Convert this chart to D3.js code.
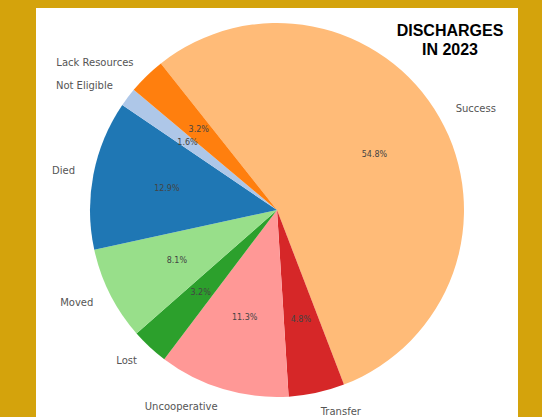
<!DOCTYPE html>
<html>
<head>
<meta charset="utf-8">
<script src="https://cdn.jsdelivr.net/npm/d3@7"></script>
<style>
  body { margin: 0; background: #d4a30c; }
  svg { display: block; }
</style>
</head>
<body>
<div id="plot"></div>
<script>
// discharge categories, in drawing order (clockwise from the top-left)
const categories = ["Success", "Transfer", "Uncooperative", "Lost", "Moved", "Died", "Not Eligible", "Lack Resources"];
const counts = [34, 3, 7, 2, 5, 8, 1, 2];
const pctLabels = ["54.8%", "4.8%", "11.3%", "3.2%", "8.1%", "12.9%", "1.6%", "3.2%"];
const colors = ["#ffbb78", "#d62728", "#ff9896", "#2ca02c", "#98df8a", "#1f77b4", "#aec7e8", "#ff7f0e"];
const titleLines = ["DISCHARGES", "IN 2023"];

const W = 542, H = 417;
const cx = 277, cy = 210, R = 187;

const svg = d3.select("#plot").append("svg")
    .attr("width", W)
    .attr("height", H);

// white panel
svg.append("rect")
    .attr("x", 36).attr("y", 8)
    .attr("width", 482).attr("height", H - 8)
    .attr("fill", "white");

const start = -38.4 * Math.PI / 180;
const pie = d3.pie()
    .sort(null)
    .value(d => d)
    .startAngle(start)
    .endAngle(start + 2 * Math.PI);

const arcs = pie(counts);
const arc = d3.arc().innerRadius(0).outerRadius(R);

const g = svg.append("g")
    .attr("transform", "translate(" + cx + "," + cy + ")");

g.selectAll("path.slice")
    .data(arcs)
    .enter()
    .append("path")
    .attr("class", "slice")
    .attr("d", arc)
    .attr("fill", (d, i) => colors[i]);

function pos(d, k) {
    const a = (d.startAngle + d.endAngle) / 2;
    return [Math.sin(a) * R * k, -Math.cos(a) * R * k];
}

// category labels outside the pie
g.selectAll("text.cat")
    .data(arcs)
    .enter()
    .append("text")
    .attr("class", "cat")
    .attr("x", d => pos(d, 1.1)[0])
    .attr("y", d => pos(d, 1.1)[1])
    .attr("dy", "0.35em")
    .attr("text-anchor", d => pos(d, 1.1)[0] < 0 ? "end" : "start")
    .attr("font-family", "DejaVu Sans, sans-serif")
    .attr("font-size", 10)
    .attr("fill", "#555")
    .text((d, i) => categories[i]);

// percent labels inside
g.selectAll("text.pct")
    .data(arcs)
    .enter()
    .append("text")
    .attr("class", "pct")
    .attr("x", d => pos(d, 0.6)[0])
    .attr("y", d => pos(d, 0.6)[1])
    .attr("dy", "0.35em")
    .attr("text-anchor", "middle")
    .attr("font-family", "DejaVu Sans, sans-serif")
    .attr("font-size", 8)
    .attr("fill", "#444")
    .text((d, i) => pctLabels[i]);

// title, top right
svg.append("text")
    .attr("x", 450).attr("y", 36)
    .attr("text-anchor", "middle")
    .attr("font-family", "Liberation Sans, Arial, sans-serif")
    .attr("font-weight", "bold")
    .attr("font-size", 16)
    .attr("fill", "#000")
    .selectAll("tspan")
    .data(titleLines)
    .enter()
    .append("tspan")
    .attr("x", 450)
    .attr("dy", (d, i) => i === 0 ? 0 : 19)
    .text(d => d);
</script>
</body>
</html>
